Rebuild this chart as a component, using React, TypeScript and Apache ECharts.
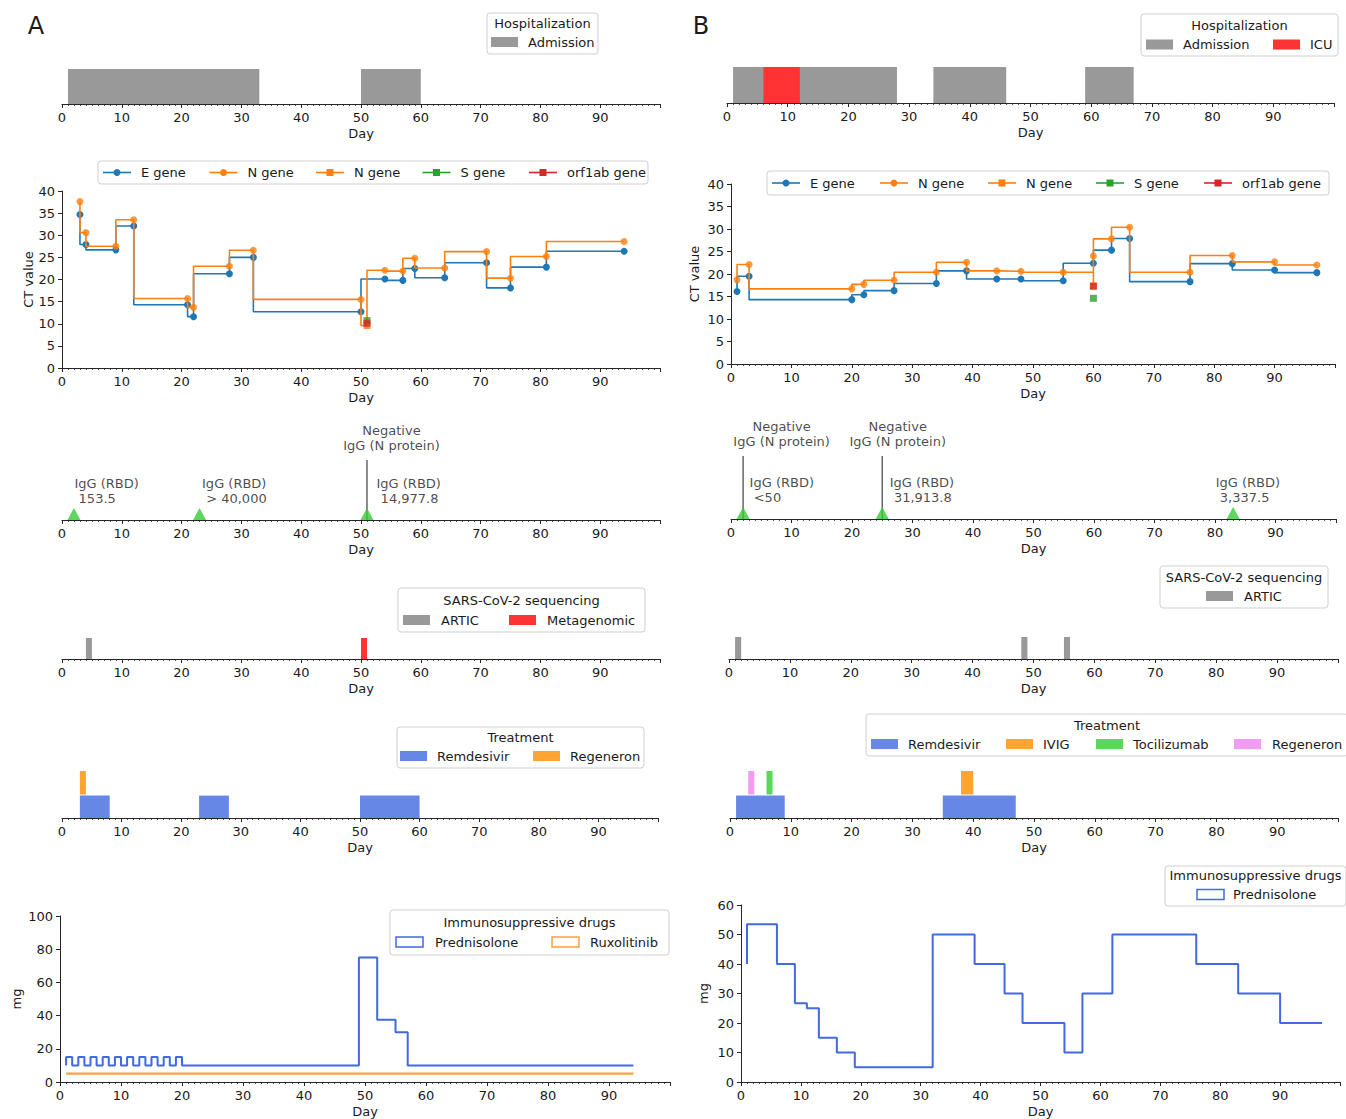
import React, { useEffect, useRef } from "react";
import * as echarts from "echarts";

// ================= DATA =================
// ---- Panel A ----
const hospA_admission = [[1, 33], [50, 60]];

const ctA_E_days = [3, 4, 9, 12, 21, 22, 28, 32, 50, 54, 57, 59, 64, 71, 75, 81, 94];
const ctA_E_vals = [34.7, 27.9, 26.7, 32.1, 14.3, 11.6, 21.3, 25.0, 12.7, 20.1, 19.8, 22.5, 20.4, 23.8, 18.1, 22.8, 26.4];
const ctA_N_days = [3, 4, 9, 12, 21, 22, 28, 32, 50, 54, 57, 59, 64, 71, 75, 81, 94];
const ctA_N_vals = [37.6, 30.6, 27.5, 33.5, 15.7, 13.7, 23.0, 26.6, 15.5, 22.1, 21.9, 24.8, 22.6, 26.3, 20.3, 25.2, 28.6];
const ctA_Nsq = [[51, 9.6]];
const ctA_N_unmarked: number[][] = [];
const ctA_S = [[51, 10.7]];
const ctA_orf = [[51, 10.1]];

const igA_days = [2, 23, 51];
const igA_text = ["IgG (RBD)\n 153.5", "IgG (RBD)\n > 40,000", "IgG (RBD)\n 14,977.8"];
const igA_negDays = [51];

const seqA_artic = [[4, 5]];
const seqA_meta = [[50, 51]];

const trtA_remdesivir = [[3, 8], [23, 28], [50, 60]];
const trtA_regeneron = [[3, 4]];

const predA_days = [1, 2, 3, 4, 5, 6, 7, 8, 9, 10, 11, 12, 13, 14, 15, 16, 17, 18, 19, 20, 21, 49, 52, 55, 57, 94];
const predA_vals = [10, 15, 10, 15, 10, 15, 10, 15, 10, 15, 10, 15, 10, 15, 10, 15, 10, 15, 10, 15, 10, 10, 75, 37.5, 30, 10];
const ruxA_days = [1, 94];
const ruxA_vals = [5, 5];

// ---- Panel B ----
const hospB_admission = [[1, 28], [34, 46], [59, 67]];
const hospB_icu = [[6, 12]];

const ctB_E_days = [1, 3, 20, 22, 27, 34, 39, 44, 48, 55, 60, 63, 66, 76, 83, 90, 97];
const ctB_E_vals = [16.1, 19.5, 14.3, 15.4, 16.3, 17.9, 20.7, 18.9, 18.9, 18.5, 22.4, 25.3, 27.9, 18.3, 22.3, 20.9, 20.3];
const ctB_N_days = [1, 3, 20, 22, 27, 34, 39, 44, 48, 55, 60, 63, 66, 76, 83, 90, 97];
const ctB_N_vals = [18.7, 22.1, 16.7, 17.7, 18.6, 20.4, 22.6, 20.7, 20.6, 20.4, 24.0, 27.8, 30.4, 20.4, 24.1, 22.7, 22.0];
const ctB_Nsq = [[60, 17.3]];
const ctB_N_unmarked = [[60, 20.4]];
const ctB_S = [[60, 14.6]];
const ctB_orf = [[60, 17.3]];

const igB_days = [2, 25, 83];
const igB_text = ["IgG (RBD)\n <50", "IgG (RBD)\n 31,913.8", "IgG (RBD)\n 3,337.5"];
const igB_negDays = [2, 25];

const seqB_artic = [[1, 2], [48, 49], [55, 56]];

const trtB_remdesivir = [[1, 9], [35, 47]];
const trtB_ivig = [[38, 40]];
const trtB_tocilizumab = [[6, 7]];
const trtB_regeneron = [[3, 4]];

const predB_days = [1, 6, 9, 11, 13, 16, 19, 32, 39, 44, 47, 54, 57, 62, 76, 83, 90, 97];
const predB_vals = [40, 53.5, 40, 26.7, 25, 15, 10, 5, 50, 40, 30, 20, 10, 30, 50, 40, 30, 20];

const negativeText = "Negative\nIgG (N protein)";

// ================= STYLE / LAYOUT =================
const TXT = "#1a1a1a";
const AX = "#262626";
const FONT = "DejaVu Sans";
const FS = 13;

const COL = {
  admission: "#999999",
  icu: "#ff3333",
  artic: "#999999",
  meta: "#ff3333",
  remdesivir: "#6787e7",
  orange: "#ffa333",
  tocilizumab: "#5bd75b",
  regeneronB: "#f19bf1",
  E: "#1f77b4",
  N: "#ff7f0e",
  S: "#2ca02c",
  orf: "#d62728",
  igg: "#33cc33",
  neg: "#666666",
  pred: "#4169e1",
  rux: "#ffa040",
};

const GRIDS = [
  { left: 62, top: 69, width: 598, height: 35 }, // 0 hospA
  { left: 62, top: 191, width: 598, height: 177 }, // 1 ctA
  { left: 62, top: 460, width: 598, height: 60 }, // 2 igA
  { left: 62, top: 638, width: 598, height: 21 }, // 3 seqA
  { left: 62, top: 771, width: 596, height: 47 }, // 4 trtA
  { left: 60, top: 916, width: 610, height: 166 }, // 5 immA
  { left: 727, top: 67, width: 607, height: 36 }, // 6 hospB
  { left: 731, top: 184, width: 604, height: 180 }, // 7 ctB
  { left: 731, top: 456, width: 605, height: 63 }, // 8 igB
  { left: 729, top: 637, width: 609, height: 22 }, // 9 seqB
  { left: 730, top: 771, width: 608, height: 47 }, // 10 trtB
  { left: 741, top: 905, width: 599, height: 177 }, // 11 immB
];

const IGG_DX_A = [1, 3, 10];
const IGG_DX_B = [7, 8, -17];
const NEG_DX_A = [25];
const NEG_DX_B = [39, 16];

// ================= HELPERS =================
const zip = (d: number[], v: number[]) => d.map((x, i) => [x, v[i]]);

function mergePath(circles: number[][], squares: number[][], extra: number[][]) {
  const pts = [
    ...extra.map((p) => ({ p, k: 0 })),
    ...squares.map((p) => ({ p, k: 1 })),
    ...circles.map((p) => ({ p, k: 2 })),
  ];
  pts.sort((a, b) => a.p[0] - b.p[0] || a.k - b.k);
  return pts.map((o) => o.p);
}

const textStyle = { color: TXT, fontSize: FS, fontFamily: FONT };

function xAxisFor(gi: number) {
  return {
    type: "value",
    gridIndex: gi,
    min: 0,
    max: 100,
    interval: 10,
    z: 5,
    name: "Day",
    nameLocation: "middle",
    nameGap: 22.5,
    nameTextStyle: { ...textStyle },
    axisLine: { show: true, onZero: false, lineStyle: { color: AX, width: 1 } },
    axisTick: { show: true, length: 4, lineStyle: { color: AX, width: 1 } },
    minorTick: { show: true, splitNumber: 10, length: 2, lineStyle: { color: AX, width: 0.8 } },
    axisLabel: { ...textStyle, margin: 6.5, showMaxLabel: false },
    splitLine: { show: false },
    minorSplitLine: { show: false },
  };
}

function yHidden(gi: number, max: number) {
  return { type: "value", gridIndex: gi, min: 0, max, show: false, splitLine: { show: false } };
}

function yShown(gi: number, max: number, interval: number, name: string, nameGap: number) {
  return {
    type: "value",
    gridIndex: gi,
    min: 0,
    max,
    interval,
    z: 5,
    name,
    nameLocation: "middle",
    nameGap,
    nameTextStyle: { ...textStyle },
    axisLine: { show: true, lineStyle: { color: AX, width: 1 } },
    axisTick: { show: true, length: 4, lineStyle: { color: AX, width: 1 } },
    axisLabel: { ...textStyle, margin: 7 },
    splitLine: { show: false },
  };
}

function spanSeries(name: string, spans: number[][], color: string, gi: number, y0: number, y1: number, z = 2) {
  return {
    type: "custom",
    name,
    xAxisIndex: gi,
    yAxisIndex: gi,
    z,
    silent: true,
    data: spans.map((s) => [s[0], s[1], 0]),
    encode: { x: [0, 1], y: 2 },
    renderItem: (_p: any, api: any) => {
      const a = api.coord([api.value(0), y0]);
      const b = api.coord([api.value(1), y1]);
      return {
        type: "rect",
        shape: { x: a[0], y: b[1], width: b[0] - a[0], height: a[1] - b[1] },
        style: { fill: color },
      };
    },
  };
}

function ctSeries(gi: number, eDays: number[], eVals: number[], nDays: number[], nVals: number[], nSq: number[][], nExtra: number[][], s: number[][], orf: number[][]) {
  const nCircles = zip(nDays, nVals);
  return [
    {
      type: "line", name: "E gene", xAxisIndex: gi, yAxisIndex: gi, z: 2, silent: true,
      step: "start", data: zip(eDays, eVals), symbol: "circle", symbolSize: 7, showSymbol: true,
      lineStyle: { color: COL.E, width: 1.6 }, itemStyle: { color: COL.E },
    },
    {
      type: "line", name: "N gene line", xAxisIndex: gi, yAxisIndex: gi, z: 3, silent: true,
      step: "start", data: mergePath(nCircles, nSq, nExtra), showSymbol: false, symbol: "none",
      lineStyle: { color: COL.N, width: 1.6 },
    },
    {
      type: "scatter", name: "N gene", xAxisIndex: gi, yAxisIndex: gi, z: 4, silent: true, clip: false,
      data: nCircles, symbol: "circle", symbolSize: 7, itemStyle: { color: COL.N },
    },
    {
      type: "scatter", name: "N gene sq", xAxisIndex: gi, yAxisIndex: gi, z: 5, silent: true, clip: false,
      data: nSq, symbol: "rect", symbolSize: 7, itemStyle: { color: COL.N },
    },
    {
      type: "scatter", name: "S gene", xAxisIndex: gi, yAxisIndex: gi, z: 6, silent: true, clip: false,
      data: s, symbol: "rect", symbolSize: 7, itemStyle: { color: COL.S },
    },
    {
      type: "scatter", name: "orf1ab gene", xAxisIndex: gi, yAxisIndex: gi, z: 7, silent: true, clip: false,
      data: orf, symbol: "rect", symbolSize: 7, itemStyle: { color: COL.orf },
    },
  ];
}

function iggSeries(gi: number, days: number[], texts: string[], dx: number[], negDays: number[], negDx: number[]) {
  return [
    {
      type: "custom", xAxisIndex: gi, yAxisIndex: gi, z: 3, silent: true,
      data: negDays.map((d) => [d, 0]),
      encode: { x: 0, y: 1 },
      renderItem: (_p: any, api: any) => {
        const a = api.coord([api.value(0), 0]);
        const b = api.coord([api.value(0), 1]);
        return { type: "line", shape: { x1: a[0], y1: a[1], x2: b[0], y2: b[1] }, style: { stroke: COL.neg, lineWidth: 1.5 } };
      },
    },
    {
      type: "scatter", xAxisIndex: gi, yAxisIndex: gi, z: 4, silent: true, clip: false,
      symbol: "triangle", symbolSize: [13, 12], symbolOffset: [0, -6],
      itemStyle: { color: COL.igg }, data: days.map((d) => [d, 0]),
    },
    {
      type: "scatter", xAxisIndex: gi, yAxisIndex: gi, z: 6, silent: true, clip: false,
      symbolSize: 1, itemStyle: { color: "rgba(0,0,0,0)" },
      data: days.map((d, i) => ({
        value: [d, 0],
        label: {
          show: true, formatter: texts[i], position: [dx[i], -14], align: "left", verticalAlign: "bottom",
          ...textStyle, lineHeight: 14.5,
        },
      })),
    },
    {
      type: "scatter", xAxisIndex: gi, yAxisIndex: gi, z: 6, silent: true, clip: false,
      symbolSize: 1, itemStyle: { color: "rgba(0,0,0,0)" },
      data: negDays.map((d, i) => ({
        value: [d, 1],
        label: {
          show: true, formatter: negativeText, position: [negDx[i], -7], align: "center", verticalAlign: "bottom",
          ...textStyle, lineHeight: 14.5,
        },
      })),
    },
  ];
}

// ---- legend graphics ----
function gtxt(x: number, y: number, text: string, align = "left", size = FS) {
  return { type: "text", x, y, z: 102, silent: true, style: { text, fill: TXT, fontSize: size, fontFamily: FONT, align, verticalAlign: "middle" } };
}
function gbox(x: number, y: number, w: number, h: number) {
  return { type: "rect", z: 100, silent: true, shape: { x, y, width: w, height: h, r: 3 }, style: { fill: "rgba(255,255,255,0.85)", stroke: "#cfcfcf", lineWidth: 1 } };
}
function gpatch(x: number, yc: number, color: string, outline = false) {
  return {
    type: "rect", z: 101, silent: true,
    shape: { x, y: yc - 5, width: 27, height: 10 },
    style: outline ? { fill: "none", stroke: color, lineWidth: 1.5 } : { fill: color },
  };
}
function glineIcon(x: number, yc: number, color: string, sym: string) {
  const out: any[] = [
    { type: "line", z: 101, silent: true, shape: { x1: x, y1: yc, x2: x + 28, y2: yc }, style: { stroke: color, lineWidth: 1.6 } },
  ];
  if (sym === "circle") out.push({ type: "circle", z: 102, silent: true, shape: { cx: x + 14, cy: yc, r: 3.5 }, style: { fill: color } });
  else out.push({ type: "rect", z: 102, silent: true, shape: { x: x + 10.5, y: yc - 3.5, width: 7, height: 7 }, style: { fill: color } });
  return out;
}

function ctLegend(x0: number, step: number, yc: number, box: number[]) {
  const items = [
    { label: "E gene", color: COL.E, sym: "circle" },
    { label: "N gene", color: COL.N, sym: "circle" },
    { label: "N gene", color: COL.N, sym: "rect" },
    { label: "S gene", color: COL.S, sym: "rect" },
    { label: "orf1ab gene", color: COL.orf, sym: "rect" },
  ];
  const out: any[] = [gbox(box[0], box[1], box[2], box[3])];
  items.forEach((it, i) => {
    const x = x0 + step * i;
    out.push(...glineIcon(x, yc, it.color, it.sym));
    out.push(gtxt(x + 38, yc, it.label));
  });
  return out;
}

function buildGraphics() {
  const g: any[] = [];
  g.push(gtxt(36, 26, "A", "center", 24));
  g.push(gtxt(701, 26, "B", "center", 24));

  // Hospitalization
  g.push(gbox(487, 13, 111, 41), gtxt(542.5, 23.5, "Hospitalization", "center"));
  g.push(gpatch(491, 42, COL.admission), gtxt(528, 42, "Admission"));
  g.push(gbox(1141, 14, 197, 42), gtxt(1239.5, 25, "Hospitalization", "center"));
  g.push(gpatch(1146, 44.5, COL.admission), gtxt(1183, 44.5, "Admission"));
  g.push(gpatch(1273, 44.5, COL.icu), gtxt(1310, 44.5, "ICU"));

  // CT legends
  g.push(...ctLegend(103, 106.5, 172.5, [98, 161, 550, 23]));
  g.push(...ctLegend(772, 108, 183, [767, 171, 562, 24]));

  // Sequencing
  g.push(gbox(398, 588, 247, 44), gtxt(521.5, 600, "SARS-CoV-2 sequencing", "center"));
  g.push(gpatch(403, 620, COL.artic), gtxt(441, 620, "ARTIC"));
  g.push(gpatch(509, 620, COL.meta), gtxt(547, 620, "Metagenomic"));
  g.push(gbox(1160, 566, 168, 42), gtxt(1244, 577, "SARS-CoV-2 sequencing", "center"));
  g.push(gpatch(1206, 596, COL.artic), gtxt(1244, 596, "ARTIC"));

  // Treatment
  g.push(gbox(397, 727, 247, 41), gtxt(520.5, 737.5, "Treatment", "center"));
  g.push(gpatch(400, 756, COL.remdesivir), gtxt(437, 756, "Remdesivir"));
  g.push(gpatch(533, 756, COL.orange), gtxt(570, 756, "Regeneron"));
  g.push(gbox(866, 714, 482, 42), gtxt(1107, 725, "Treatment", "center"));
  g.push(gpatch(871, 744, COL.remdesivir), gtxt(908, 744, "Remdesivir"));
  g.push(gpatch(1006, 744, COL.orange), gtxt(1043, 744, "IVIG"));
  g.push(gpatch(1096, 744, COL.tocilizumab), gtxt(1133, 744, "Tocilizumab"));
  g.push(gpatch(1234, 744, COL.regeneronB), gtxt(1272, 744, "Regeneron"));

  // Immunosuppressive
  g.push(gbox(390, 910, 279, 45), gtxt(529.5, 922.5, "Immunosuppressive drugs", "center"));
  g.push(gpatch(396, 942, COL.pred, true), gtxt(435, 942, "Prednisolone"));
  g.push(gpatch(552, 942, COL.rux, true), gtxt(590, 942, "Ruxolitinib"));
  g.push(gbox(1165, 866, 181, 40), gtxt(1255.5, 875.5, "Immunosuppressive drugs", "center"));
  g.push(gpatch(1197, 894.5, COL.pred, true), gtxt(1233, 894.5, "Prednisolone"));
  return g;
}

function buildOption() {
  const grid = GRIDS.map((r) => ({ ...r, containLabel: false, outerBoundsMode: "none" }));
  const xAxis = GRIDS.map((_r, i) => xAxisFor(i));
  const yAxis = [
    yHidden(0, 1),
    yShown(1, 40, 5, "CT value", 27),
    yHidden(2, 1),
    yHidden(3, 1),
    yHidden(4, 2.1),
    yShown(5, 100, 20, "mg", 37.5),
    yHidden(6, 1),
    yShown(7, 40, 5, "CT value", 30.5),
    yHidden(8, 1),
    yHidden(9, 1),
    yHidden(10, 2.1),
    yShown(11, 60, 10, "mg", 31),
  ];

  const series: any[] = [
    // Panel A
    spanSeries("Admission", hospA_admission, COL.admission, 0, 0, 1),
    ...ctSeries(1, ctA_E_days, ctA_E_vals, ctA_N_days, ctA_N_vals, ctA_Nsq, ctA_N_unmarked, ctA_S, ctA_orf),
    ...iggSeries(2, igA_days, igA_text, IGG_DX_A, igA_negDays, NEG_DX_A),
    spanSeries("ARTIC", seqA_artic, COL.artic, 3, 0, 1),
    spanSeries("Metagenomic", seqA_meta, COL.meta, 3, 0, 1),
    spanSeries("Remdesivir", trtA_remdesivir, COL.remdesivir, 4, 0, 1),
    spanSeries("Regeneron", trtA_regeneron, COL.orange, 4, 1.05, 2.1),
    {
      type: "line", name: "Prednisolone", xAxisIndex: 5, yAxisIndex: 5, z: 3, silent: true,
      step: "start", data: zip(predA_days, predA_vals), showSymbol: false, symbol: "none",
      lineStyle: { color: COL.pred, width: 2 },
    },
    {
      type: "line", name: "Ruxolitinib", xAxisIndex: 5, yAxisIndex: 5, z: 2, silent: true,
      step: "start", data: zip(ruxA_days, ruxA_vals), showSymbol: false, symbol: "none",
      lineStyle: { color: COL.rux, width: 2.2 },
    },
    // Panel B
    spanSeries("Admission", hospB_admission, COL.admission, 6, 0, 1),
    spanSeries("ICU", hospB_icu, COL.icu, 6, 0, 1, 3),
    ...ctSeries(7, ctB_E_days, ctB_E_vals, ctB_N_days, ctB_N_vals, ctB_Nsq, ctB_N_unmarked, ctB_S, ctB_orf),
    ...iggSeries(8, igB_days, igB_text, IGG_DX_B, igB_negDays, NEG_DX_B),
    spanSeries("ARTIC", seqB_artic, COL.artic, 9, 0, 1),
    spanSeries("Remdesivir", trtB_remdesivir, COL.remdesivir, 10, 0, 1),
    spanSeries("IVIG", trtB_ivig, COL.orange, 10, 1.05, 2.1),
    spanSeries("Tocilizumab", trtB_tocilizumab, COL.tocilizumab, 10, 1.05, 2.1),
    spanSeries("Regeneron", trtB_regeneron, COL.regeneronB, 10, 1.05, 2.1),
    {
      type: "line", name: "Prednisolone", xAxisIndex: 11, yAxisIndex: 11, z: 3, silent: true,
      step: "start", data: zip(predB_days, predB_vals), showSymbol: false, symbol: "none",
      lineStyle: { color: COL.pred, width: 2 },
    },
  ];

  return {
    animation: false,
    backgroundColor: "#ffffff",
    textStyle: { fontFamily: FONT },
    tooltip: { show: false },
    grid,
    xAxis,
    yAxis,
    series,
    graphic: { elements: buildGraphics() },
  };
}

export default function App() {
  const ref = useRef<HTMLDivElement>(null);
  useEffect(() => {
    if (!ref.current) return;
    const chart = echarts.init(ref.current, undefined, { renderer: "svg" });
    chart.setOption(buildOption() as any);
    return () => chart.dispose();
  }, []);
  return (
    <div
      ref={ref}
      style={{ position: "absolute", left: 0, top: 0, width: 1346, height: 1119, background: "#ffffff" }}
    />
  );
}
